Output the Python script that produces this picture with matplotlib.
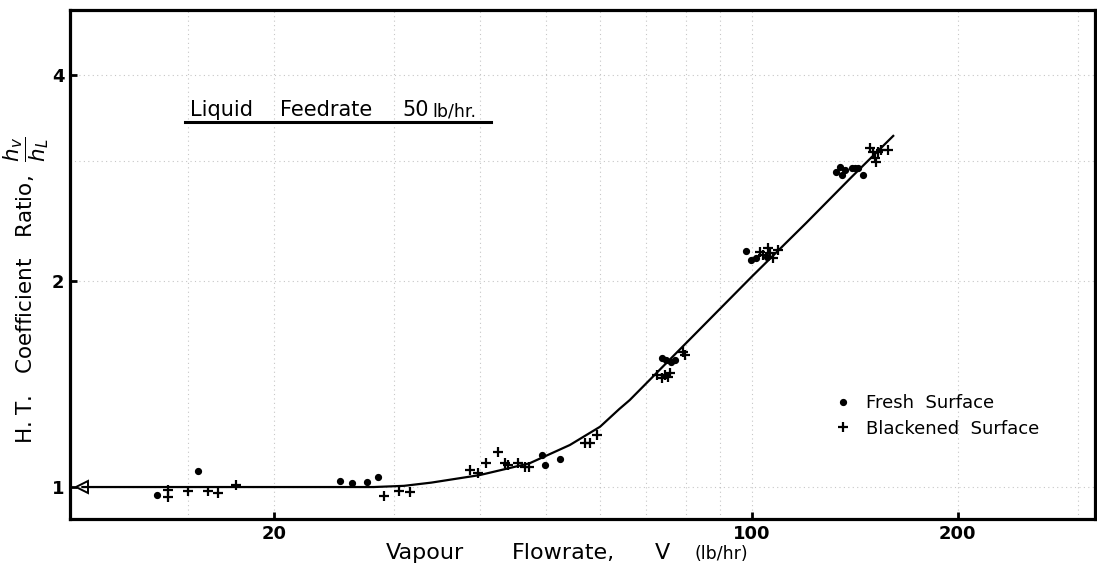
#!/usr/bin/env python3
"""
H.T. coefficient ratio vs vapour flowrate (log-log), liquid feedrate 50 lb/hr
"""

import matplotlib
matplotlib.use("Agg")
import matplotlib.pyplot as plt
from matplotlib.ticker import FixedLocator, FixedFormatter, NullLocator


# fresh surface (dots)
fresh_v = [13.5, 15.5, 25.0, 26.0, 27.4, 28.4, 49.3, 49.8, 52.4,
           73.8, 75.0, 76.3, 77.2, 98.2, 99.9, 101.6, 105.1,
           133.0, 134.5, 135.3, 136.8, 139.9, 141.5, 143.1, 145.5]
fresh_r = [0.972, 1.056, 1.020, 1.015, 1.018, 1.035, 1.114, 1.077, 1.098,
           1.542, 1.533, 1.525, 1.533, 2.213, 2.146, 2.159, 2.171,
           2.891, 2.940, 2.858, 2.907, 2.924, 2.930, 2.930, 2.858]

# blackened surface (crosses)
black_v = [14.0, 14.0, 15.0, 16.0, 16.6, 17.6, 29.0, 30.5, 31.6,
           38.7, 39.8, 40.9, 42.5, 43.6, 44.0, 45.5, 46.6, 47.3,
           57.0, 58.0, 59.3, 72.6, 73.8, 74.6, 75.4, 75.9, 79.4, 79.8,
           102.7, 103.9, 105.6, 106.2, 107.4, 109.3,
           148.8, 150.4, 152.9, 154.7, 158.2, 151.3, 152.1]
black_r = [0.990, 0.968, 0.988, 0.988, 0.979, 1.007, 0.970, 0.987, 0.984,
           1.059, 1.049, 1.083, 1.126, 1.083, 1.077, 1.083, 1.071, 1.071,
           1.159, 1.159, 1.191, 1.458, 1.442, 1.458, 1.450, 1.466, 1.577, 1.560,
           2.208, 2.183, 2.232, 2.197, 2.159, 2.222,
           3.128, 3.092, 3.092, 3.110, 3.110, 3.024, 2.989]

# hand drawn correlation curve
curve_v = [10.5, 20, 28, 31, 34, 40, 47.3, 54.2, 60, 64, 66.3, 80, 100, 120, 140, 161]
curve_r = [1.0, 1.0, 1.0, 1.004, 1.015, 1.041, 1.083, 1.152, 1.225, 1.30, 1.34,
           1.62, 2.03, 2.43, 2.84, 3.26]

x_ticks = [20, 100, 200]
x_tick_labels = ["20", "100", "200"]
y_ticks = [1, 2, 4]
y_tick_labels = ["1", "2", "4"]
x_grid = [15, 20, 30, 40, 50, 60, 70, 80, 90, 100, 200, 300]
y_grid = [1, 2, 3, 4]


W, H = 1097, 566
fig = plt.figure(figsize=(W / 100, H / 100), dpi=100)
fig.patch.set_facecolor("white")


def px(x, y):
    """pixel position (from top left) -> figure fraction"""
    return x / W, 1 - y / H


# axes box in pixels: left 70, right 1095, top 10, bottom 519
ax = fig.add_axes([70 / W, 1 - 519 / H, (1095 - 70) / W, (519 - 10) / H])
ax.set_xscale("log")
ax.set_yscale("log")
ax.set_xlim(10.07, 317.6)
ax.set_ylim(0.898, 4.98)

# faint graph paper grid
for v in x_grid:
    ax.axvline(v, color="#a0a0a0", lw=0.8, ls=(0, (1, 3)), alpha=0.6, zorder=0)
for r in y_grid:
    ax.axhline(r, color="#a0a0a0", lw=0.8, ls=(0, (1, 3)), alpha=0.6, zorder=0)

# curve + arrow at left end
ax.plot(curve_v, curve_r, color="black", lw=1.6, zorder=2)
ax.plot(curve_v[0], curve_r[0], marker="<", ms=9, mfc="none", mec="black",
        mew=1.4, zorder=3)

ax.plot(fresh_v, fresh_r, ls="none", marker="o", ms=4.2, color="black",
        label="Fresh  Surface", zorder=4)
ax.plot(black_v, black_r, ls="none", marker="+", ms=7, mew=1.6, color="black",
        label="Blackened  Surface", zorder=4)

# ticks
ax.xaxis.set_major_locator(FixedLocator(x_ticks))
ax.xaxis.set_major_formatter(FixedFormatter(x_tick_labels))
ax.xaxis.set_minor_locator(NullLocator())
ax.yaxis.set_major_locator(FixedLocator(y_ticks))
ax.yaxis.set_major_formatter(FixedFormatter(y_tick_labels))
ax.yaxis.set_minor_locator(NullLocator())
ax.tick_params(direction="in", length=5, width=2, labelsize=13, pad=4)
for lab in ax.get_xticklabels() + ax.get_yticklabels():
    lab.set_fontweight("bold")

for sp in ax.spines.values():
    sp.set_linewidth(2.3)
    sp.set_color("black")

# title with underline
title_y = 116
for x, s, fs in [(190, "Liquid", 15), (280, "Feedrate", 15),
                 (402, "50", 15), (432, "lb/hr.", 12.5)]:
    fig.text(*px(x, title_y), s, fontsize=fs, ha="left", va="baseline")
ax.plot([0.112, 0.4107], [0.780, 0.780], transform=ax.transAxes,
        color="black", lw=2.2, clip_on=False)

leg = ax.legend(loc="upper left", bbox_to_anchor=(0.745, 0.245), frameon=False,
                fontsize=13, handlelength=1.0, handletextpad=0.8,
                labelspacing=0.4, borderpad=0, borderaxespad=0)

# axis labels
fig.text(*px(26, 290),
         r"H. T.   Coefficient   Ratio,  $\dfrac{h_v}{h_L}$",
         rotation=90, ha="center", va="center", fontsize=15.5)
for x, s, fs in [(386, "Vapour", 16), (512, "Flowrate,", 16),
                 (655, "V", 16), (695, "(lb/hr)", 12.5)]:
    fig.text(*px(x, 559), s, fontsize=fs, ha="left", va="baseline")

fig.savefig("out.png", dpi=100, facecolor="white")
plt.close(fig)
